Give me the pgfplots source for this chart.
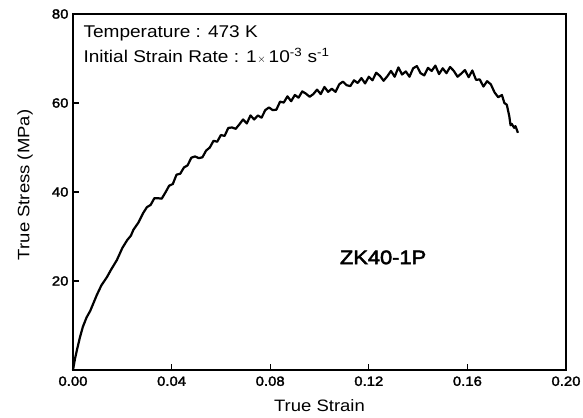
\documentclass[border=0pt]{standalone}
\usepackage{pgfplots}
\pgfplotsset{compat=1.18}
\usepackage{fontspec}
\setmainfont{Liberation Sans}[FakeStretch=1.12]
\newfontfamily\tickfont{Liberation Sans}[FakeStretch=1.12, FakeBold=2.2]
\newfontfamily\labfont{Liberation Sans}[FakeStretch=1.12, FakeBold=2.6]
\begin{document}
\begin{tikzpicture}
\begin{axis}[
  scale only axis,
  width=493bp, height=356bp,
  xmin=0, xmax=0.2, ymin=0, ymax=80,
  xtick={0,0.04,0.08,0.12,0.16,0.2},
  ytick={20,40,60,80},
  tick pos=left,
  tick align=inside,
  major tick length=6bp,
  axis line style={line width=1.4bp},
  tick style={line width=1.3bp, black},
  /pgf/number format/assume math mode=true,
  xticklabel style={/pgf/number format/fixed, /pgf/number format/fixed zerofill, /pgf/number format/precision=2, font=\tickfont\fontsize{13.3bp}{15bp}\selectfont, yshift=-3bp},
  yticklabel style={font=\tickfont\fontsize{13.3bp}{15bp}\selectfont, xshift=-1bp},
  scaled x ticks=false,
  xlabel={True Strain},
  ylabel={True Stress (MPa)},
  xlabel style={font=\fontsize{16.5bp}{18bp}\selectfont, at={(axis description cs:0.5,0)}, anchor=base, yshift=-42bp},
  ylabel style={font=\fontsize{16.5bp}{18bp}\selectfont, at={(axis description cs:-0.0974,0.52)}, anchor=center},
  clip=false,
]
\addplot[black, line width=2.2bp, line join=round] coordinates {
(0,0) (0.0008,2.5) (0.0016,4.5) (0.0028,7.3) (0.004,9.7) (0.0055,11.8) (0.007,13.3)
(0.0085,15.3) (0.0097,16.9) (0.0115,19.0) (0.0138,20.9) (0.0155,22.6) (0.0178,24.7)
(0.020,27.4) (0.022,29.2) (0.0235,30.2) (0.0245,31.5) (0.0265,33.1) (0.0285,35.3)
(0.0300,36.6) (0.0315,37.1) (0.0330,38.6) (0.0345,38.6) (0.0360,38.5) (0.0375,39.9)
(0.0390,41.4) (0.0405,41.8) (0.0420,43.9) (0.0435,44.1) (0.0450,45.5) (0.0465,46.0)
(0.0480,47.7) (0.0495,48.0) (0.0510,47.6) (0.0525,47.8) (0.0540,49.3) (0.0555,50.0)
(0.0570,51.5) (0.0585,51.3) (0.0600,52.8) (0.0615,52.6) (0.0630,54.4) (0.0645,54.5)
(0.0660,54.2) (0.0675,55.2) (0.0690,56.3) (0.0705,55.4) (0.0720,57.2) (0.0735,56.3)
(0.0750,57.2) (0.0765,56.7) (0.0780,58.4) (0.0795,59.0) (0.0810,58.4) (0.0825,58.5)
(0.0840,60.3) (0.0855,60.1) (0.0870,61.5) (0.0885,60.4) (0.0900,61.8) (0.0915,61.2)
(0.0930,62.6) (0.0945,62.1) (0.0960,61.4) (0.0975,62.0) (0.0990,63.0) (0.1005,62.0)
(0.1020,63.6) (0.1035,62.5) (0.1050,63.2) (0.1065,62.5) (0.1080,64.2) (0.1095,64.8)
(0.1110,64.0) (0.1125,63.8) (0.1140,65.1) (0.1155,64.5) (0.1170,65.6) (0.1185,64.4)
(0.1200,65.9) (0.1215,65.1) (0.1230,66.8) (0.1245,66.1) (0.1260,65.0) (0.1275,66.0)
(0.1290,67.2) (0.1305,65.9) (0.1320,68.0) (0.1335,66.4) (0.1350,67.1) (0.1365,65.9)
(0.1380,67.8) (0.1395,68.3) (0.1410,66.7) (0.1425,66.2) (0.1440,67.9) (0.1455,67.2)
(0.1470,68.4) (0.1485,66.5) (0.1500,67.8) (0.1515,66.7) (0.1530,68.1) (0.1545,67.2)
(0.1560,65.9) (0.1575,66.6) (0.1590,67.4) (0.1605,65.8) (0.1620,67.3) (0.1635,65.2)
(0.1650,65.3) (0.1665,63.7) (0.1680,64.9) (0.1695,64.2) (0.1710,62.4) (0.1725,61.3)
(0.1740,61.8) (0.1750,60.0) (0.1760,59.6) (0.1770,57.0) (0.1775,55.0) (0.1780,55.3)
(0.1790,54.4) (0.1795,54.8) (0.1805,53.3)
};
\node[anchor=base west, font=\fontsize{17bp}{19bp}\selectfont, inner sep=0pt] at (rel axis cs:0.021,0.9346) {Temperature : 473 K};
\node[anchor=base west, font=\fontsize{17bp}{19bp}\selectfont, inner sep=0pt] at (rel axis cs:0.021,0.863) {Initial Strain Rate : 1\kern0.5pt{\fontsize{11bp}{12bp}\selectfont$\times$}\kern3pt 10\textsuperscript{-3} s\textsuperscript{-1}};
\node[font=\labfont\fontsize{19.5bp}{21bp}\selectfont, inner sep=0pt] at (axis cs:0.1258,25.3) {ZK40-1P};
\end{axis}
\pgfresetboundingbox
\useasboundingbox ([xshift=-73bp,yshift=-48bp]current axis.south west) rectangle ([xshift=17bp,yshift=14bp]current axis.north east);
\end{tikzpicture}
\end{document}
